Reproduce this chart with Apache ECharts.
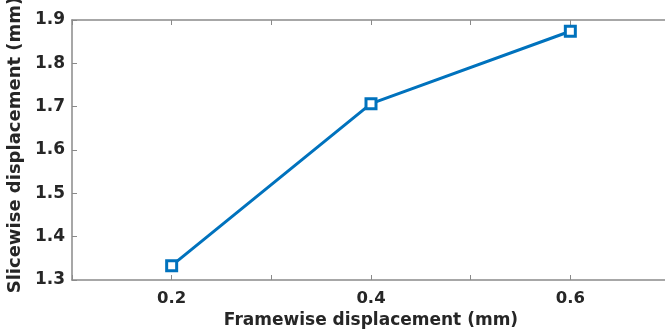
<!DOCTYPE html>
<html>
<head>
<meta charset="utf-8">
<script src="https://cdn.jsdelivr.net/npm/echarts@6/dist/echarts.min.js"></script>
<style>
  html, body { margin: 0; padding: 0; background: #fff; overflow: hidden; }
  /* the plot box runs a few pixels past the right edge of the window */
  #chart { width: 675px; height: 331px; }
</style>
</head>
<body>
<div id="chart"></div>
<script>
// Framewise vs. slicewise displacement
const framewise = [0.2, 0.4, 0.6];
const slicewise = [1.333, 1.707, 1.874];
const xLabelled = ['0.2', '0.4', '0.6'];

const lineColor = '#0072BD';
const axisGray = '#8a8a8a';
const textColor = '#262626';
const font = 'DejaVu Sans';

const chart = echarts.init(document.getElementById('chart'));

const tickStyle = { show: true, inside: true, length: 5, lineStyle: { color: axisGray, width: 1 } };
const lineStyle = { show: true, onZero: false, lineStyle: { color: axisGray, width: 1.5 } };

chart.setOption({
  animation: false,
  grid: { left: 72, right: 5, top: 20, bottom: 51, containLabel: false, outerBoundsMode: 'none' },
  xAxis: [
    {
      type: 'value', min: 0.1, max: 0.7, interval: 0.1, position: 'bottom',
      axisLine: lineStyle, axisTick: tickStyle, splitLine: { show: false },
      axisLabel: {
        color: textColor, fontFamily: font, fontWeight: 'bold', fontSize: 16.5, margin: 10,
        formatter: v => {
          const s = v.toFixed(1);
          return xLabelled.includes(s) ? s : '';
        }
      },
      name: 'Framewise displacement (mm)', nameLocation: 'middle', nameGap: 31,
      nameTextStyle: { color: textColor, fontFamily: font, fontWeight: 'bold', fontSize: 17 }
    },
    {
      type: 'value', min: 0.1, max: 0.7, interval: 0.1, position: 'top',
      axisLine: lineStyle, axisTick: tickStyle, axisLabel: { show: false }, splitLine: { show: false }
    }
  ],
  yAxis: [
    {
      type: 'value', min: 1.3, max: 1.9, interval: 0.1, position: 'left',
      axisLine: lineStyle, axisTick: tickStyle, splitLine: { show: false },
      axisLabel: {
        color: textColor, fontFamily: font, fontWeight: 'bold', fontSize: 17, margin: 7,
        formatter: v => v.toFixed(1)
      },
      name: 'Slicewise displacement (mm)', nameLocation: 'middle', nameGap: 38,
      nameTextStyle: {
        color: textColor, fontFamily: font, fontWeight: 'bold', fontSize: 18,
        padding: [0, 0, 0, 10]
      }
    },
    {
      type: 'value', min: 1.3, max: 1.9, interval: 0.1, position: 'right',
      axisLine: lineStyle, axisTick: tickStyle, axisLabel: { show: false }, splitLine: { show: false }
    }
  ],
  series: [{
    type: 'line',
    data: framewise.map((x, i) => [x, slicewise[i]]),
    symbol: 'rect', symbolSize: 10,
    lineStyle: { color: lineColor, width: 3 },
    itemStyle: { color: '#fff', borderColor: lineColor, borderWidth: 3 }
  }]
});
</script>
</body>
</html>
